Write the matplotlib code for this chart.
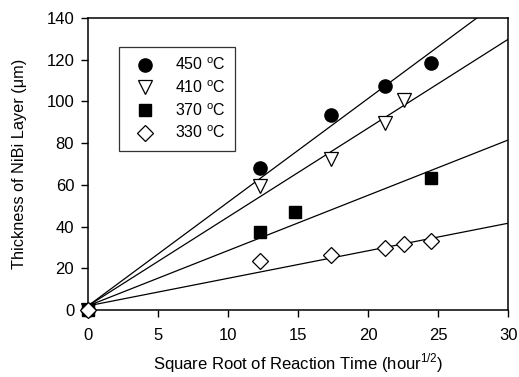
import matplotlib
matplotlib.use("Agg")
import matplotlib.pyplot as plt
import numpy as np

plt.rcParams["font.family"] = ["Liberation Sans", "DejaVu Sans"]
plt.rcParams["mathtext.fontset"] = "custom"
plt.rcParams["mathtext.rm"] = "Liberation Sans"

# measured points (x = sqrt(hours), y = thickness in um)
x_450 = [0, 12.25, 17.32, 21.21, 24.49]
y_450 = [0, 68, 93.5, 107.5, 118.5]
x_410 = [0, 12.25, 17.32, 21.21, 22.6]
y_410 = [0, 59.5, 72.5, 89.5, 100.5]
x_370 = [0, 12.25, 14.8, 24.49]
y_370 = [0, 37.5, 47, 63.5]
x_330 = [0, 12.25, 17.32, 21.21, 22.6, 24.49]
y_330 = [0, 23.5, 26.5, 29.5, 31.5, 33]

# fitted lines: slope, intercept
fit_slopes = [4.97, 4.26, 2.65, 1.32]
fit_intercepts = [2.0, 2.0, 2.0, 2.0]

labels = ["450 $^{\\rm o}$C", "410 $^{\\rm o}$C", "370 $^{\\rm o}$C", "330 $^{\\rm o}$C"]

fig = plt.figure(figsize=(5.19, 3.77), dpi=100)
ax = fig.add_axes([0.1696, 0.1777, 0.8094, 0.7745])

xx = np.array([0, 30])
for m, b in zip(fit_slopes, fit_intercepts):
    ax.plot(xx, m * xx + b, color="black", lw=0.9, zorder=1)

ax.plot(x_450, y_450, ls="none", marker="o", ms=9.5, mfc="black", mec="black",
        label=labels[0], zorder=3, clip_on=False)
ax.plot(x_410, y_410, ls="none", marker="v", ms=9.5, mfc="white", mec="black",
        mew=0.9, label=labels[1], zorder=3, clip_on=False)
ax.plot(x_370, y_370, ls="none", marker="s", ms=8, mfc="black", mec="black",
        label=labels[2], zorder=3, clip_on=False)
ax.plot(x_330, y_330, ls="none", marker="D", ms=8, mfc="white", mec="black",
        mew=0.9, label=labels[3], zorder=4, clip_on=False)

ax.set_xlim(0, 30)
ax.set_ylim(0, 140)
ax.set_xticks([0, 5, 10, 15, 20, 25, 30])
ax.set_yticks(range(0, 141, 20))
ax.tick_params(direction="out", length=5, width=1, labelsize=12)
ax.tick_params(axis="x", pad=8)
ax.tick_params(axis="y", pad=5)
for s in ax.spines.values():
    s.set_linewidth(1.1)
ax.set_xlabel("Square Root of Reaction Time (hour$^{1/2}$)", fontsize=12, labelpad=6)
ax.set_ylabel("Thickness of NiBi Layer (\u03bcm)", fontsize=11.7, labelpad=14)

leg = ax.legend(loc="upper left", bbox_to_anchor=(0.074, 0.90), fontsize=11.5,
                frameon=True, fancybox=False, edgecolor="black", borderpad=0.6,
                labelspacing=0.38, handletextpad=0.9, borderaxespad=0)
leg.get_frame().set_linewidth(0.9)

fig.savefig("out.png", dpi=100)
